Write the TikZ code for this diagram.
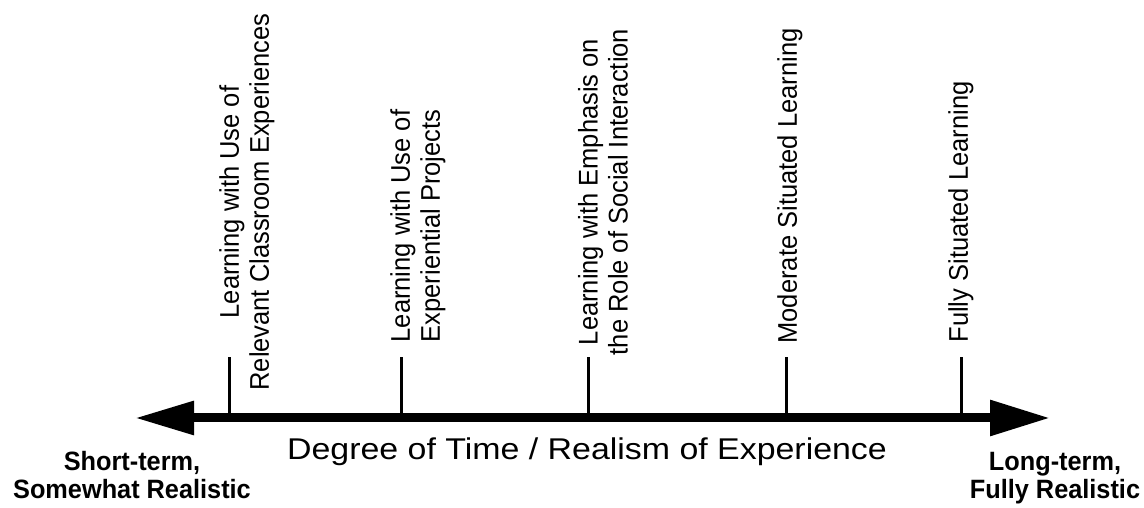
\documentclass[tikz,border=0pt]{standalone}
\usepackage{fontspec}
\setmainfont{Liberation Sans}
\newfontfamily\stagefont[FakeStretch=0.945]{Liberation Sans}
\newfontfamily\endfont[FakeStretch=0.955]{Liberation Sans}
\newfontfamily\axisfont[FakeStretch=1.13]{Liberation Sans}
\usetikzlibrary{arrows.meta}
\begin{document}
\begin{tikzpicture}[x=1pt,y=1pt,
  stage/.style={rotate=90, align=center, inner sep=0pt, font=\stagefont\fontsize{27}{30}\selectfont},
  endlabel/.style={align=center, inner sep=0pt, font=\endfont\fontsize{26.5}{28}\selectfont\bfseries},
  tick/.style={line width=3pt}]
  \useasboundingbox (0,0) rectangle (1144,508);
  % the axis
  \coordinate (short) at (135,90);
  \coordinate (long) at (1050,90);
  \draw[line width=9pt, {Triangle[length=59pt,width=32pt]}-{Triangle[length=60pt,width=34pt]}] (short) -- (long);
  \node[anchor=base, font=\axisfont\fontsize{30}{36}\selectfont] (scale) at (587,48) {Degree of Time / Realism of Experience};
  \node[endlabel] (shortlbl) at (132,33) {Short-term,\\Somewhat Realistic};
  \node[endlabel] (longlbl) at (1055,30) {Long-term,\\Fully Realistic};
  % ticks
  \coordinate (t1) at (229,90);  \coordinate (t1top) at (229,151);
  \coordinate (t2) at (401,90);  \coordinate (t2top) at (401,151);
  \coordinate (t3) at (588,90);  \coordinate (t3top) at (588,151);
  \coordinate (t4) at (786,90);  \coordinate (t4top) at (786,151);
  \coordinate (t5) at (961,90);  \coordinate (t5top) at (961,151);
  \draw[tick] (t1) -- (t1top);
  \draw[tick] (t2) -- (t2top);
  \draw[tick] (t3) -- (t3top);
  \draw[tick] (t4) -- (t4top);
  \draw[tick] (t5) -- (t5top);
  % stages
  \node[stage] (classroom) at (247,306) {Learning with Use of\\Relevant Classroom Experiences};
  \node[stage] (projects) at (418,282) {Learning with Use of\\Experiential Projects};
  \node[stage] (social) at (603,316) {Learning with Emphasis on\\the Role of Social Interaction};
  \node[stage] (moderate) at (790,322) {Moderate Situated Learning};
  \node[stage] (fully) at (961,296) {Fully Situated Learning};
\end{tikzpicture}
\end{document}
